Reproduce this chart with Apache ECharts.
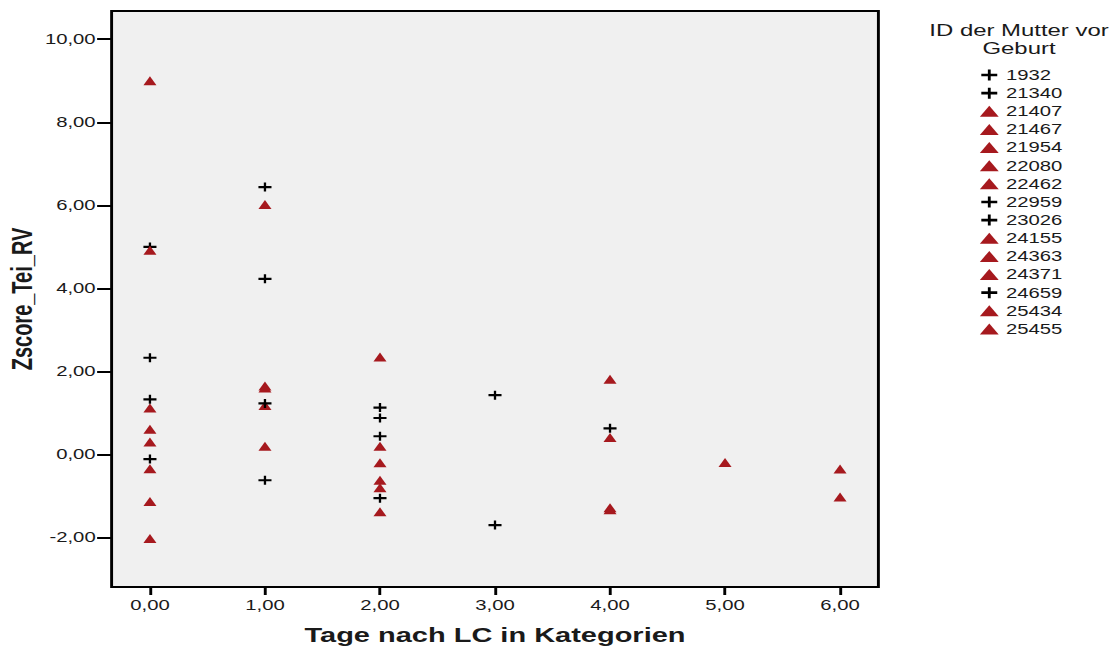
<!DOCTYPE html>
<html>
<head>
<meta charset="utf-8">
<script src="https://cdn.jsdelivr.net/npm/echarts@6/dist/echarts.min.js"></script>
<style>
	html, body { margin: 0; padding: 0; background: #fff; overflow: hidden; }
	/* the original SPSS export is stretched sideways, so the whole chart is too */
	#chart { width: 772px; height: 651px; transform: scaleX(1.4495); transform-origin: 0 0; }
</style>
</head>
<body>
<div id="chart"></div>
<script>
	'use strict';

	// ID der Mutter vor Geburt (legend order)
	var ids = ['1932', '21340', '21407', '21467', '21954', '22080', '22462', '22959',
		'23026', '24155', '24363', '24371', '24659', '25434', '25455'];
	// marker kind per ID: c = cross, t = triangle
	var kinds = ['c', 'c', 't', 't', 't', 't', 't', 'c', 'c', 't', 't', 't', 'c', 't', 't'];

	// [Tage nach LC, Zscore_Tei_RV]
	var d1932  = [[0, 5.00], [1, 6.44], [2, 1.13]];
	var d21340 = [[0, 2.33], [1, 4.23], [3, 1.43]];
	var d21407 = [[0, 9.00], [1, 6.02], [2, 2.35]];
	var d21467 = [[0, 4.92], [1, 1.65], [2, 0.20]];
	var d21954 = [[0, 1.12], [1, 1.60], [4, 1.81]];
	var d22080 = [[0, 0.61], [2, -0.20], [4, 0.41]];
	var d22462 = [[0, 0.30], [1, 1.18], [2, -0.62]];
	var d22959 = [[0, 1.33], [1, 1.23], [2, 0.88]];
	var d23026 = [[0, -0.11], [2, 0.44], [3, -1.70]];
	var d24155 = [[0, -0.34], [1, 0.20], [5, -0.19]];
	var d24363 = [[0, -1.13], [2, -0.80], [6, -0.35]];
	var d24371 = [[0, -2.02], [2, -1.38], [4, -1.28]];
	var d24659 = [[1, -0.62], [2, -1.05], [4, 0.63]];
	var d25434 = [[4, -1.33]];
	var d25455 = [[6, -1.02]];
	var values = [d1932, d21340, d21407, d21467, d21954, d22080, d22462, d22959,
		d23026, d24155, d24363, d24371, d24659, d25434, d25455];

	var xTicks = [0, 1, 2, 3, 4, 5, 6];
	var yTicks = [-2, 0, 2, 4, 6, 8, 10];

	var crossPath = 'path://M3.7,0H5.3V3.4H9V5.6H5.3V9H3.7V5.6H0V3.4H3.7Z';
	var red = '#a6191e';
	var font = 'Liberation Sans, Arial, sans-serif';

	function comma(v) {
		return v.toFixed(2).replace('.', ',');
	}

	var series = ids.map(function(id, i) {
		var cross = kinds[i] === 'c';
		return {
			name: id,
			type: 'scatter',
			data: values[i],
			symbol: cross ? crossPath : 'triangle',
			symbolSize: 9,
			itemStyle: {
				color: cross ? '#000' : red,
				opacity: 1
			},
			emphasis: { disabled: true }
		};
	});

	var chart = echarts.init(document.getElementById('chart'), null, { renderer: 'svg' });
	chart.setOption({
		animation: false,
		backgroundColor: '#fff',
		textStyle: { fontFamily: font },
		grid: {
			left: 77,
			right: 166,
			top: 11,
			bottom: 64,
			outerBoundsMode: 'none',
			containLabel: false,
			show: true,
			backgroundColor: '#f0f0f0',
			borderColor: '#000',
			borderWidth: 2
		},
		xAxis: {
			type: 'value',
			min: -0.3333,
			max: 6.3333,
			name: 'Tage nach LC in Kategorien',
			nameLocation: 'middle',
			nameGap: 38,
			nameTextStyle: { fontSize: 20, fontWeight: 'bold', color: '#1a1a1a', fontFamily: font },
			splitLine: { show: false },
			axisLine: { show: false, onZero: false },
			axisTick: {
				show: true,
				length: 8,
				customValues: xTicks,
				lineStyle: { color: '#000', width: 2 }
			},
			axisLabel: {
				customValues: xTicks,
				margin: 11,
				fontSize: 14,
				color: '#1a1a1a',
				formatter: comma
			}
		},
		yAxis: {
			type: 'value',
			min: -3.19,
			max: 10.68,
			name: 'Zscore_Tei_RV',
			nameLocation: 'middle',
			nameGap: 52,
			nameMoveOverlap: false,
			nameTextStyle: { fontSize: 20, fontWeight: 'bold', color: '#1a1a1a', fontFamily: font },
			splitLine: { show: false },
			axisLine: { show: false, onZero: false },
			axisTick: {
				show: true,
				length: 10,
				customValues: yTicks,
				lineStyle: { color: '#000', width: 2 }
			},
			axisLabel: {
				customValues: yTicks,
				margin: 11,
				fontSize: 14,
				color: '#1a1a1a',
				formatter: comma
			}
		},
		legend: {
			orient: 'vertical',
			left: 671,
			top: 61,
			itemWidth: 13,
			itemHeight: 11,
			itemGap: 0.14,
			selectedMode: false,
			data: ids,
			textStyle: { fontSize: 14, lineHeight: 18, color: '#1a1a1a', fontFamily: font }
		},
		graphic: [{
			type: 'text',
			x: 703,
			y: 21,
			style: {
				text: 'ID der Mutter vor\nGeburt',
				x: 0,
				y: 0,
				textAlign: 'center',
				fontSize: 16.5,
				lineHeight: 18,
				fill: '#1a1a1a',
				fontFamily: font
			}
		}],
		series: series
	});
</script>
</body>
</html>
